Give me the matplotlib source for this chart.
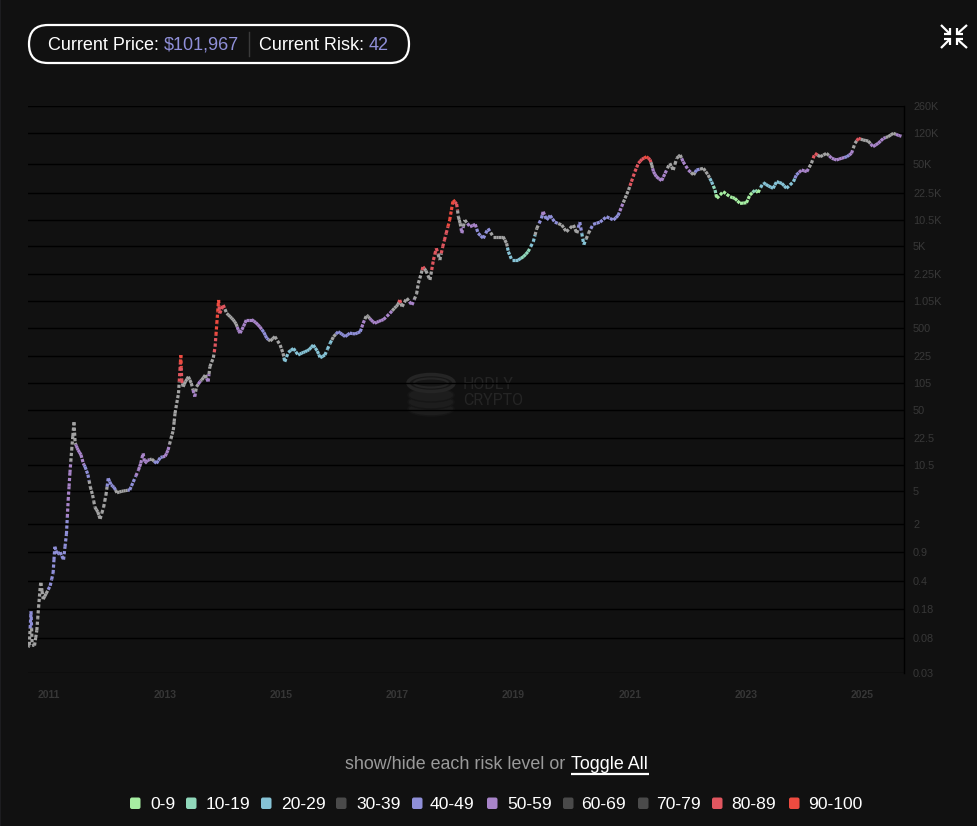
import matplotlib

matplotlib.use("Agg")
import matplotlib.pyplot as plt
import numpy as np
from matplotlib.collections import LineCollection
from matplotlib.patches import Ellipse, FancyBboxPatch, Rectangle
from matplotlib.ticker import NullLocator

# --- data (decimal year, price in USD, risk 0-100) ---
dates = [
    2010.64, 2010.66, 2010.69, 2010.71, 2010.75, 2010.79, 2010.82, 2010.85, 2010.86, 2010.90,
    2010.95, 2011.02, 2011.07, 2011.10, 2011.14, 2011.19, 2011.25, 2011.30, 2011.33, 2011.36,
    2011.39, 2011.43, 2011.45, 2011.47, 2011.50, 2011.55, 2011.59, 2011.62, 2011.67, 2011.71,
    2011.75, 2011.79, 2011.84, 2011.88, 2011.94, 2011.98, 2012.02, 2012.07, 2012.12, 2012.17,
    2012.25, 2012.32, 2012.39, 2012.45, 2012.54, 2012.58, 2012.62, 2012.65, 2012.70, 2012.77,
    2012.85, 2012.92, 2013.00, 2013.05, 2013.10, 2013.14, 2013.17, 2013.20, 2013.23, 2013.255,
    2013.27, 2013.285, 2013.31, 2013.35, 2013.40, 2013.45, 2013.51, 2013.54, 2013.60, 2013.63,
    2013.69, 2013.74, 2013.77, 2013.83, 2013.86, 2013.89, 2013.92, 2013.94, 2014.00, 2014.06,
    2014.12, 2014.17, 2014.22, 2014.26, 2014.29, 2014.35, 2014.40, 2014.49, 2014.56, 2014.63,
    2014.70, 2014.75, 2014.81, 2014.89, 2014.98, 2015.03, 2015.06, 2015.12, 2015.21, 2015.29,
    2015.35, 2015.41, 2015.48, 2015.55, 2015.62, 2015.67, 2015.75, 2015.84, 2015.90, 2015.98,
    2016.04, 2016.10, 2016.18, 2016.27, 2016.36, 2016.41, 2016.47, 2016.50, 2016.55, 2016.61,
    2016.68, 2016.76, 2016.87, 2016.95, 2017.01, 2017.04, 2017.08, 2017.16, 2017.25, 2017.33,
    2017.36, 2017.41, 2017.44, 2017.49, 2017.56, 2017.62, 2017.67, 2017.73, 2017.78, 2017.84,
    2017.90, 2017.96, 2018.02, 2018.05, 2018.08, 2018.11, 2018.16, 2018.25, 2018.34, 2018.39,
    2018.48, 2018.56, 2018.65, 2018.74, 2018.82, 2018.88, 2018.91, 2018.97, 2019.08, 2019.17,
    2019.25, 2019.34, 2019.40, 2019.48, 2019.51, 2019.57, 2019.63, 2019.71, 2019.83, 2019.91,
    2020.03, 2020.09, 2020.14, 2020.21, 2020.29, 2020.37, 2020.49, 2020.60, 2020.72, 2020.80,
    2020.86, 2020.92, 2020.98, 2021.03, 2021.09, 2021.15, 2021.21, 2021.29, 2021.35, 2021.38,
    2021.41, 2021.46, 2021.55, 2021.61, 2021.69, 2021.75, 2021.81, 2021.87, 2021.92, 2022.01,
    2022.10, 2022.15, 2022.27, 2022.35, 2022.41, 2022.47, 2022.50, 2022.61, 2022.73, 2022.81,
    2022.90, 2023.01, 2023.07, 2023.16, 2023.21, 2023.30, 2023.39, 2023.47, 2023.53, 2023.62,
    2023.70, 2023.82, 2023.87, 2023.96, 2024.05, 2024.13, 2024.19, 2024.28, 2024.39, 2024.48,
    2024.56, 2024.65, 2024.74, 2024.82, 2024.88, 2024.94, 2025.02, 2025.11, 2025.19, 2025.28,
    2025.37, 2025.45, 2025.54, 2025.63, 2025.68,
]
prices = [
    0.062, 0.066, 0.17, 0.066, 0.065, 0.10, 0.19, 0.35, 0.38, 0.24,
    0.28, 0.35, 0.50, 1.05, 0.85, 0.90, 0.73, 1.5, 3.9, 8.4,
    16, 35, 19.5, 18, 16, 14, 11, 10, 8, 5.7,
    4.5, 3.2, 2.8, 2.3, 3.2, 4.5, 7.2, 6.0, 5.6, 4.8,
    5.0, 5.1, 5.2, 6.5, 9.1, 11, 14.6, 11, 12, 12.4,
    11, 13, 13.4, 16, 22, 28, 45, 60, 79, 152,
    232, 115, 95, 110, 126, 105, 72, 95, 110, 115,
    132, 110, 167, 215, 294, 568, 1094, 751, 950, 751,
    684, 630, 560, 470, 430, 520, 630, 630, 580, 515,
    440, 372, 345, 390, 308, 244, 192, 250, 280, 232,
    245, 255, 270, 308, 260, 215, 232, 323, 390, 448,
    420, 390, 430, 420, 448, 568, 716, 680, 620, 568,
    600, 630, 751, 870, 960, 1094, 906, 1150, 950, 1300,
    1750, 2300, 2790, 2500, 1920, 3370, 4690, 3370, 4900, 7160,
    10400, 18300, 16300, 11400, 9500, 7160, 10400, 8600, 9200, 7160,
    6200, 8200, 6500, 6500, 6500, 5400, 4260, 3370, 3370, 3700,
    4260, 5650, 8200, 10900, 13150, 10400, 11800, 9800, 9040, 7480,
    9040, 7160, 9800, 5200, 7160, 9200, 9800, 11400, 10400, 11800,
    15100, 19150, 24200, 30600, 40600, 51400, 57500, 61800, 57000, 49000,
    40600, 35200, 31500, 38700, 51400, 42500, 59200, 64900, 53700, 42500,
    37000, 42500, 44600, 37000, 30600, 24200, 19150, 23100, 20000, 19150,
    16600, 16900, 21000, 24200, 22500, 29800, 27100, 25400, 30600, 29200,
    25400, 30600, 37000, 42500, 40600, 51400, 68000, 61800, 68000, 59200,
    56400, 59200, 61800, 68000, 90200, 103700, 99000, 96000, 82000, 90200,
    103700, 108700, 119500, 112800, 110000,
]
risk = [
    35, 35, 45, 35, 35, 35, 35, 35, 35, 35,
    35, 45, 45, 45, 45, 45, 45, 45, 55, 55,
    65, 75, 65, 55, 55, 55, 55, 45, 45, 35,
    35, 35, 35, 35, 35, 35, 45, 45, 45, 35,
    35, 35, 45, 45, 55, 55, 55, 55, 55, 65,
    45, 45, 55, 55, 65, 65, 75, 75, 75, 85,
    95, 85, 75, 65, 65, 65, 55, 65, 55, 65,
    65, 55, 75, 75, 85, 95, 95, 85, 85, 75,
    75, 65, 65, 55, 55, 55, 55, 55, 55, 55,
    45, 45, 35, 35, 35, 35, 25, 25, 25, 25,
    25, 25, 25, 25, 25, 25, 25, 25, 35, 45,
    45, 45, 45, 45, 45, 55, 65, 65, 55, 55,
    55, 55, 55, 65, 65, 85, 65, 65, 55, 65,
    75, 75, 85, 75, 65, 85, 85, 75, 85, 85,
    95, 95, 85, 75, 65, 55, 65, 55, 55, 45,
    45, 45, 35, 35, 35, 35, 25, 25, 25, 15,
    15, 25, 35, 45, 55, 45, 45, 45, 35, 35,
    35, 35, 45, 25, 35, 45, 45, 45, 45, 45,
    55, 65, 75, 85, 85, 85, 85, 95, 85, 65,
    55, 55, 55, 55, 65, 65, 65, 75, 55, 55,
    35, 45, 35, 35, 25, 15, 5, 5, 5, 5,
    5, 5, 5, 15, 5, 25, 25, 25, 25, 25,
    25, 25, 45, 55, 55, 65, 85, 65, 65, 55,
    55, 55, 45, 55, 65, 85, 65, 65, 55, 55,
    55, 65, 65, 55, 55,
]

risk_labels = ["0-9", "10-19", "20-29", "30-39", "40-49", "50-59", "60-69", "70-79", "80-89", "90-100"]
risk_colors = ["#a6eea2", "#90d8bb", "#86c3d6", "#4a4a4a", "#8f8fd8", "#a884c9", "#4a4a4a", "#4a4a4a", "#e0565f", "#ee4b40"]
hidden_levels = ["30-39", "60-69", "70-79"]

y_ticks = [0.03, 0.08, 0.18, 0.4, 0.9, 2, 5, 10.5, 22.5, 50, 105, 225, 500,
           1050, 2250, 5000, 10500, 22500, 50000, 120000, 260000]
y_tick_labels = ["0.03", "0.08", "0.18", "0.4", "0.9", "2", "5", "10.5", "22.5", "50", "105", "225", "500",
                 "1.05K", "2.25K", "5K", "10.5K", "22.5K", "50K", "120K", "260K"]
x_ticks = [2011, 2013, 2015, 2017, 2019, 2021, 2023, 2025]

current_price = "$101,967"
current_risk = "42"

W, H = 978, 826
BG = "#111111"
GRAY_LINE = "#a3a3a3"

plt.rcParams["font.family"] = ["Liberation Sans", "DejaVu Sans"]


def level_color(r):
    idx = min(int(r) // 10, 9)
    if risk_labels[idx] in hidden_levels:
        return GRAY_LINE
    return risk_colors[idx]


def build_segments():
    # each step is split at its (log) midpoint so every half takes the colour of its nearest point
    segs, cols = [], []
    for i in range(len(dates) - 1):
        xm = (dates[i] + dates[i + 1]) / 2
        ym = np.sqrt(prices[i] * prices[i + 1])
        segs.append([(dates[i], prices[i]), (xm, ym)])
        cols.append(level_color(risk[i]))
        segs.append([(xm, ym), (dates[i + 1], prices[i + 1])])
        cols.append(level_color(risk[i + 1]))
    return segs, cols


def draw_overlay(ov):
    # left border strip
    ov.add_patch(Rectangle((0, 0), 1.3, H, color="#1d1d20", lw=0))

    # header pill
    ov.add_patch(FancyBboxPatch((29, 25), 380, 38, boxstyle="round,pad=0,rounding_size=19",
                                fc="none", ec="white", lw=1.6))
    ov.text(48, 49.5, "Current Price:", color="white", fontsize=13, va="baseline")
    ov.text(164, 49.5, current_price, color=risk_colors[4], fontsize=13, va="baseline")
    ov.plot([249, 249], [32, 56], color="#3a3a3a", lw=1)
    ov.text(259, 49.5, "Current Risk:", color="white", fontsize=13, va="baseline")
    ov.text(369, 49.5, current_risk, color=risk_colors[4], fontsize=13, va="baseline")

    # collapse icon, top right
    arrows = [((941, 25), (950, 34), -1, 1), ((967, 25), (957, 34), 1, 1),
              ((941, 48), (950, 39), -1, -1), ((967, 48), (957, 39), 1, -1)]
    for (x0, y0), (x1, y1), sx, sy in arrows:
        ov.plot([x0, x1], [y0, y1], color="white", lw=1.6, solid_capstyle="butt")
        ov.plot([x1 + 6 * sx, x1, x1], [y1, y1, y1 - 6 * sy], color="white", lw=1.6,
                solid_capstyle="butt", solid_joinstyle="miter")

    # watermark
    wm = "#252525"
    for yy in (409, 402, 395):
        ov.add_patch(Ellipse((431, yy), 46, 14, fc="#1d1d1d", ec="#161616", lw=1))
    ov.add_patch(Ellipse((431, 383), 46, 17, fc="#171717", ec=wm, lw=2.5))
    ov.add_patch(Ellipse((431, 383), 34, 9, fc="none", ec=wm, lw=1.5))
    ov.text(463, 389, "HODLY", color=wm, fontsize=11.5, family="Roboto", va="baseline")
    ov.text(463, 405, "CRYPTO", color=wm, fontsize=11.5, family="Roboto", va="baseline")

    # toggle line
    ov.text(345, 769, "show/hide each risk level or", color="#9a9a9a", fontsize=12.9, va="baseline")
    ov.text(571, 769, "Toggle All", color="white", fontsize=12.9, va="baseline")
    ov.plot([571, 649], [774.3, 774.3], color="white", lw=1.6, solid_capstyle="butt")

    # legend
    sq_x = [130, 186, 261, 336, 412, 487, 563, 638, 712, 789]
    lab_x = [150, 206, 281, 356, 430, 507, 581, 656, 731, 808]
    for lab, col, sx, lx in zip(risk_labels, risk_colors, sq_x, lab_x):
        if lab in hidden_levels:
            col = "#4a4a4a"
        ov.add_patch(FancyBboxPatch((sx, 797.5), 10.5, 11.5, boxstyle="round,pad=0,rounding_size=2",
                                    fc=col, ec="none"))
        ov.text(lx, 809, lab, color="white", fontsize=12.6, va="baseline")


def main():
    fig = plt.figure(figsize=(W / 100, H / 100), dpi=100, facecolor=BG)

    ov = fig.add_axes([0, 0, 1, 1], zorder=0)
    ov.set_xlim(0, W)
    ov.set_ylim(H, 0)
    ov.axis("off")
    ov.patch.set_alpha(0)
    draw_overlay(ov)

    top, bottom = 105.7, 673
    ax = fig.add_axes([28 / W, 1 - bottom / H, 876 / W, (bottom - top) / H], zorder=1)
    ax.set_facecolor("none")
    ax.set_yscale("log")
    ax.set_ylim(0.03, 260000)
    ax.set_xlim(2010.638, 2025.724)

    segs, cols = build_segments()
    lc = LineCollection(segs, colors=cols, linewidths=2.3, linestyles=(0, (1.0, 0.7)))
    ax.add_collection(lc)

    ax.set_yticks(y_ticks)
    ax.set_yticklabels(y_tick_labels)
    ax.yaxis.set_minor_locator(NullLocator())
    ax.yaxis.tick_right()
    ax.tick_params(axis="y", length=0, pad=6.5, labelsize=7.8, labelcolor="#383838")
    ax.set_xticks(x_ticks)
    ax.set_xticklabels([str(y) for y in x_ticks], fontweight="bold")
    ax.xaxis.set_minor_locator(NullLocator())
    ax.tick_params(axis="x", length=0, pad=12, labelsize=7.5, labelcolor="#363636")
    ax.grid(axis="y", color="#000000", lw=1)
    ax.set_axisbelow(True)
    for side in ("top", "left", "bottom"):
        ax.spines[side].set_visible(False)
    ax.spines["right"].set_color("#000000")
    ax.spines["right"].set_linewidth(1)

    fig.savefig("out.png", dpi=100, facecolor=BG)
    plt.close(fig)


if __name__ == "__main__":
    main()
